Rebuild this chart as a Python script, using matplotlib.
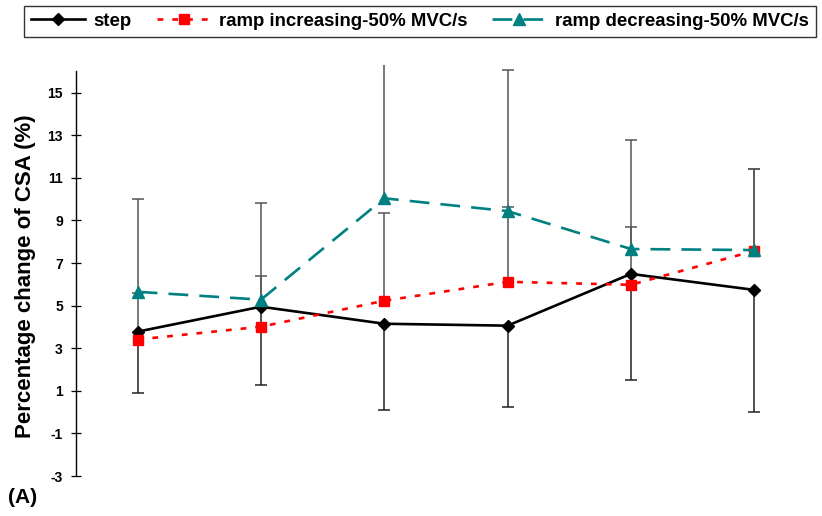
import matplotlib.pyplot as plt
import numpy as np

# conditions along x (no category labels drawn)
positions = [1, 2, 3, 4, 5, 6]

series_names = ["step", "ramp increasing-50% MVC/s", "ramp decreasing-50% MVC/s"]

step_mean = [3.78, 4.95, 4.15, 4.06, 6.49, 5.74]
inc_mean = [3.41, 4.01, 5.23, 6.12, 5.98, 7.57]
dec_mean = [5.65, 5.28, 10.04, 9.44, 7.66, 7.61]

# one-sided SD bars: step drawn downward, the ramps upward
step_sd = [2.90, 3.69, 4.05, 3.83, 5.00, 5.73]
inc_sd = [2.20, 2.39, 4.11, 3.50, 2.72, 3.85]
dec_sd = [4.35, 4.54, 6.80, 6.62, 5.10, 3.82]

yticks = [-3, -1, 1, 3, 5, 7, 9, 11, 13, 15]

font = ["Liberation Sans", "DejaVu Sans"]
plt.rcParams['font.family'] = font
plt.rcParams['font.weight'] = 'bold'
plt.rcParams['axes.unicode_minus'] = False

fig = plt.figure(figsize=(8.22, 5.16), dpi=100)
ax = fig.add_axes([0.0925, 0.0775, 0.9, 0.7965])

x = np.array(positions)


def sd_bars(means, sds, sign, color):
    means = np.array(means)
    ends = means + sign * np.array(sds)
    ax.vlines(x, means, ends, color=color, lw=1.1, zorder=1)
    ax.plot(x, ends, ls='none', marker='_', ms=9, mew=1.1, color=color, zorder=1)


sd_bars(step_mean, step_sd, -1, '#222222')
sd_bars(inc_mean, inc_sd, 1, '#555555')
sd_bars(dec_mean, dec_sd, 1, '#555555')

ax.plot(x, step_mean, color='black', lw=1.9, marker='D', ms=6.5,
        label=series_names[0], zorder=3)
ax.plot(x, inc_mean, color='#ff0000', lw=1.9, ls=(0, (2.2, 3.4)), marker='s', ms=7.5,
        label=series_names[1], zorder=4)
ax.plot(x, dec_mean, color='#008080', lw=1.9, ls=(0, (7.5, 4.2)), marker='^', ms=9,
        label=series_names[2], zorder=5)

ax.set_xlim(0.5, 6.5)
ax.set_ylim(-3, 16.3)
ax.set_yticks(yticks)
ax.set_xticks([])
for side in ['top', 'right', 'bottom']:
    ax.spines[side].set_visible(False)
ax.spines['left'].set_bounds(-3, 16)
ax.spines['left'].set_linewidth(1.0)
ax.tick_params(axis='y', direction='inout', length=7, width=0.9, labelsize=10, pad=6)
for lab in ax.get_yticklabels():
    lab.set_fontweight('bold')

ax.set_ylabel("Percentage change of CSA (%)", fontsize=16, fontweight='bold')
ax.yaxis.set_label_coords(-0.054, 0.487)

fig.text(0.010, 0.035, "(A)", fontsize=15, fontweight='bold', ha='left', va='center')

leg = fig.legend(loc='center', bbox_to_anchor=(24 / 822, 1 - 38 / 516, 792 / 822, 33 / 516),
                 mode='expand', borderaxespad=0, ncol=3, frameon=True,
                 fancybox=False, edgecolor='black', handlelength=2.9,
                 handletextpad=0.45, borderpad=0.4,
                 prop={'weight': 'bold', 'size': 13.4, 'family': font})
leg.get_frame().set_linewidth(1.0)

fig.savefig('out.png', dpi=100)
